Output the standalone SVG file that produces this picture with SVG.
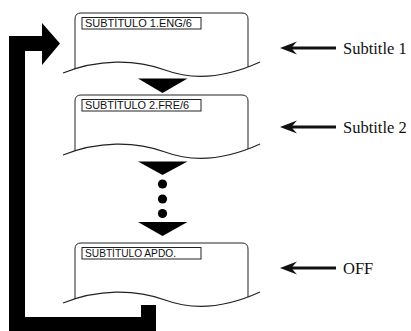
<svg xmlns="http://www.w3.org/2000/svg" width="411" height="331" viewBox="0 0 411 331">
<style>
.frame{fill:none;stroke:#222;stroke-width:1}
.wave{fill:none;stroke:#222;stroke-width:1.1}
.lbl{fill:#fff;stroke:#222;stroke-width:1}
.lt{font-family:"Liberation Sans",Arial,sans-serif;font-size:11px;fill:#111}
.st{font-family:"Liberation Serif","Times New Roman",serif;font-size:16.5px;fill:#111}
.blk{fill:#000}
</style>
<defs>
<g id="screen">
<path class="frame" d="M75,69 V19 Q75,13 81,13 H242 Q248,13 248,19 V67"/>
<path class="wave" d="M63,73 C98,59 135,59 165,70 C192,80 225,78 260,62"/>
<rect class="lbl" x="82" y="17.5" width="119" height="11.5"/>
</g>
<path id="larrow" d="M280,48 L297,41.5 L292.5,46.5 H336 V49.5 H292.5 L297,54.5 Z"/>
</defs>
<g id="screen1">
<use href="#screen"/>
<text class="lt" x="85" y="27" textLength="107" lengthAdjust="spacingAndGlyphs">SUBTÍTULO 1.ENG/6</text>
</g>
<g id="screen2" transform="translate(0,82)">
<use href="#screen"/>
<text class="lt" x="85" y="27" textLength="104" lengthAdjust="spacingAndGlyphs">SUBTÍTULO 2.FRE/6</text>
</g>
<g id="screen3" transform="translate(0,230)">
<use href="#screen"/>
<text class="lt" x="85" y="27" textLength="91" lengthAdjust="spacingAndGlyphs">SUBTÍTULO APDO.</text>
</g>
<g id="label1">
<use href="#larrow" fill="#111"/>
<text class="st" x="343" y="54">Subtitle 1</text>
</g>
<g id="label2" transform="translate(0,79)">
<use href="#larrow" fill="#111"/>
<text class="st" x="343" y="54">Subtitle 2</text>
</g>
<g id="label3" transform="translate(0,220)">
<use href="#larrow" fill="#111"/>
<text class="st" x="343" y="54">OFF</text>
</g>
<g id="connectors">
<path class="blk" d="M138,78.5 H187.5 L162.5,93 Z"/>
<path class="blk" d="M138,161.5 H187.5 L162.5,175 Z"/>
<circle class="blk" cx="162.5" cy="184" r="4.6"/>
<circle class="blk" cx="162.5" cy="199" r="4.6"/>
<circle class="blk" cx="162.5" cy="213.5" r="4.6"/>
<path class="blk" d="M138,222 H187.5 L162.5,236 Z"/>
<path class="blk" d="M9,331 V36 H42 V23 L60,43.5 L42,65 V51 H25 V317 H141 V305 H156 V331 Z"/>
</g>
</svg>
